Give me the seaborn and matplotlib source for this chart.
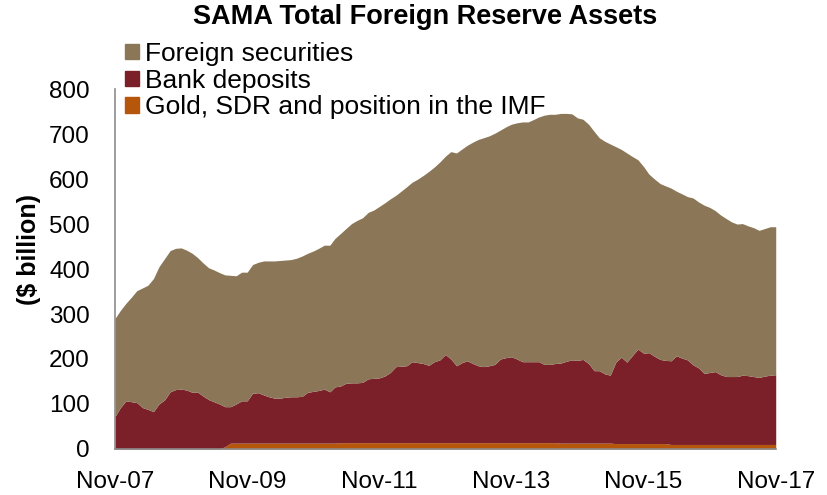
import numpy as np
import pandas as pd
import matplotlib
matplotlib.use("Agg")
import matplotlib.pyplot as plt
import seaborn as sns
from matplotlib.patches import Patch

start_month = "2007-11-01"
tick_labels = ["Nov-07", "Nov-09", "Nov-11", "Nov-13", "Nov-15", "Nov-17"]
series_names = ["Gold, SDR and position in the IMF", "Bank deposits", "Foreign securities"]

gold = [0]*20 + [5] + [13]*20 + [14]*40 + [13]*10 + [12]*10 + [10]*20

bank_deposits = [
    72, 92, 107, 105, 103, 92, 88, 83, 100, 109, 127, 132, 133, 131, 126, 126, 118, 110, 105, 100,
    89, 81, 87, 94, 94, 111, 112, 107, 103, 100, 100, 102, 103, 103, 104, 113, 115, 117, 120, 114,
    125, 126, 132, 133, 133, 134, 142, 143, 144, 148, 156, 169, 170, 171, 180, 178, 176, 172, 180, 184,
    196, 186, 171, 178, 182, 176, 171, 169, 171, 174, 186, 189, 191, 186, 180, 180, 180, 180, 174, 174,
    176, 178, 182, 185, 184, 186, 177, 161, 161, 154, 151, 181, 192, 181, 196, 210, 201, 202, 194, 187,
    185, 186, 197, 192, 188, 177, 170, 158, 160, 162, 155, 151, 151, 151, 154, 153, 151, 149, 152, 154,
    155,
]

foreign_securities = [
    218, 216, 217, 233, 249, 266, 276, 296, 305, 314, 314, 314, 314, 311, 309, 299, 296, 293, 293, 292,
    293, 292, 285, 286, 286, 286, 290, 298, 302, 305, 306, 305, 305, 308, 312, 309, 312, 316, 320, 326,
    330, 339, 344, 354, 361, 366, 370, 374, 381, 385, 386, 381, 389, 398, 399, 408, 418, 431, 433, 440,
    441, 461, 473, 475, 479, 492, 503, 509, 511, 514, 509, 513, 517, 525, 533, 533, 538, 544, 554, 556,
    554, 555, 551, 547, 539, 534, 532, 532, 518, 517, 514, 479, 462, 465, 442, 421, 415, 397, 394, 391,
    388, 384, 366, 365, 363, 371, 369, 374, 367, 358, 355, 351, 344, 339, 337, 333, 331, 327, 328, 330,
    329,
]

colors = ["#B5560B", "#7B2029", "#8B7757"]

dates = pd.date_range(start_month, periods=len(bank_deposits), freq="MS")
df = pd.DataFrame({series_names[0]: gold, series_names[1]: bank_deposits,
                   series_names[2]: foreign_securities}, index=dates)

sns.set_style("white")
plt.rcParams["font.family"] = ["Liberation Sans", "DejaVu Sans"]
plt.rcParams["text.color"] = "black"

fig = plt.figure(figsize=(8.27, 4.95), dpi=100)
ax = fig.add_axes([0.139, 0.093, 0.799, 0.727])

ax.stackplot(df.index, [df[c].values for c in series_names], colors=colors,
             labels=series_names, linewidth=0)

ax.set_ylim(0, 800)
ax.set_yticks(range(0, 801, 100))
ax.set_xlim(dates[0], dates[-1])
ax.set_xticks(dates[::24])
ax.set_xticklabels(tick_labels)

sns.despine(ax=ax, top=True, right=True)
for s in ["left", "bottom"]:
    ax.spines[s].set_color("#8c8c8c")
    ax.spines[s].set_linewidth(1.2)
ax.tick_params(axis="both", which="major", direction="out", length=6, width=1.2,
               color="#8c8c8c", labelsize=17.5, labelcolor="black")
ax.tick_params(axis="y", pad=12)
ax.tick_params(axis="x", pad=10)

ax.set_ylabel("($ billion)", fontsize=18, fontweight="bold", color="black")
ax.yaxis.set_label_coords(-0.112, 0.553)

fig.text(425/827, 1 - 17/495, "SAMA Total Foreign Reserve Assets", fontsize=19.5,
         fontweight="bold", ha="center", va="center", color="black")

handles = [Patch(color=colors[2]), Patch(color=colors[1]), Patch(color=colors[0])]
labels = [series_names[2], series_names[1], series_names[0]]
leg = fig.legend(handles, labels, loc="upper left", bbox_to_anchor=(125/827, 1 - 42/495),
                 frameon=False, fontsize=19, handlelength=0.53, handleheight=0.53,
                 handletextpad=0.23, labelspacing=0.1, borderpad=0, borderaxespad=0)

fig.savefig("out.png", dpi=100)
